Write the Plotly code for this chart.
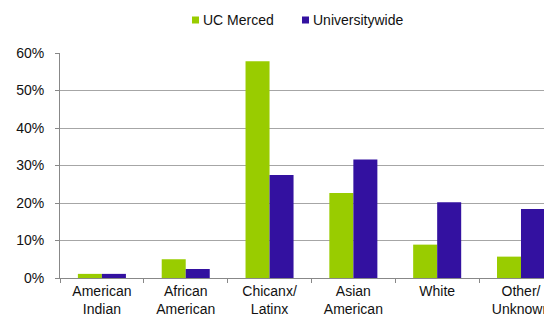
import plotly.graph_objects as go

categories = ["American<br>Indian", "African<br>American", "Chicanx/<br>Latinx",
              "Asian<br>American", "White", "Other/<br>Unknown"]
uc_merced = [1.1, 5.0, 57.8, 22.7, 8.9, 5.7]
universitywide = [1.1, 2.4, 27.5, 31.6, 20.2, 18.4]
y_ticks = [0, 10, 20, 30, 40, 50, 60]
series_names = ["UC Merced", "Universitywide"]

GREEN = "#99CC00"
PURPLE = "#3311A0"
FONT = "Liberation Sans, Arial, sans-serif"

fig = go.Figure()
fig.add_trace(go.Bar(name=series_names[0], x=categories, y=uc_merced,
                     marker=dict(color=GREEN, line=dict(width=0))))
fig.add_trace(go.Bar(name=series_names[1], x=categories, y=universitywide,
                     marker=dict(color=PURPLE, line=dict(width=0))))

# page body has an 8px margin; size the figure so it fills the window
OFF = 8
W, H = 552 - OFF, 317 - OFF
# plot area in window pixels: x 60..552, y 53..278
ML, MR, MT, MB = 60 - OFF, 0, 53 - OFF, H - (278 - OFF)
fig.update_layout(
    width=W, height=H,
    margin=dict(l=ML, r=MR, t=MT, b=MB, autoexpand=False),
    paper_bgcolor="white", plot_bgcolor="white",
    barmode="group", bargap=0.427, bargroupgap=0,
    font=dict(family=FONT, size=14, color="#111111"),
    showlegend=False,
)

# manual legend (window pixel positions converted to paper coordinates)
def px_x(p):
    return (p - OFF - ML) / (W - ML - MR)

def px_y(p):
    return (H - MB - (p - OFF)) / (H - MT - MB)

legend_items = [(series_names[0], GREEN, 192), (series_names[1], PURPLE, 302)]
for name, color, sx in legend_items:
    fig.add_shape(type="rect", xref="paper", yref="paper",
                  x0=px_x(sx), x1=px_x(sx + 7), y0=px_y(23.5), y1=px_y(16.5),
                  fillcolor=color, line=dict(width=0))
    fig.add_annotation(text=name, xref="paper", yref="paper",
                       x=px_x(sx + 8.5), y=px_y(20), xanchor="left", yanchor="middle",
                       showarrow=False, font=dict(size=14, color="#111111"))

fig.update_xaxes(
    range=[-0.5, 5.37], automargin=False,
    showline=True, linecolor="#888888", linewidth=1,
    ticks="outside", tickson="boundaries", ticklen=4, tickcolor="#888888",
    showgrid=False, tickfont=dict(size=14), ticklabelstandoff=0,
)
fig.update_yaxes(
    range=[0, 60], tickvals=y_ticks, ticktext=[f"{v}%" for v in y_ticks],
    automargin=False,
    showline=True, linecolor="#888888", linewidth=1,
    ticks="outside", ticklen=4, tickcolor="#888888",
    showgrid=True, gridcolor="#A6A6A6", gridwidth=1,
    zeroline=False, tickfont=dict(size=14), ticklabelstandoff=8,
)

fig.write_html("out.html")
